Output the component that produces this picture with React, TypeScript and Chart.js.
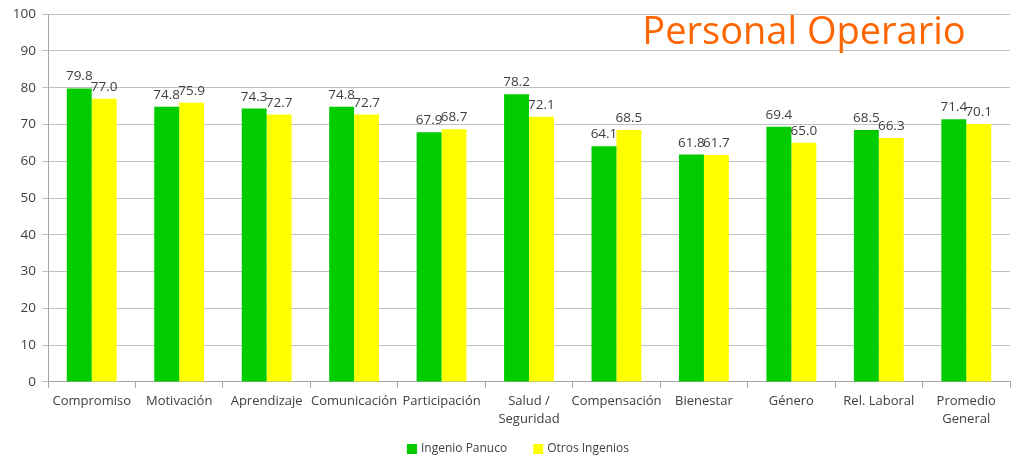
import React, { useEffect, useRef } from "react";
import { Chart, registerables } from "chart.js";

Chart.register(...registerables);

const categories: (string | string[])[] = [
  "Compromiso",
  "Motivación",
  "Aprendizaje",
  "Comunicación",
  "Participación",
  ["Salud /", "Seguridad"],
  "Compensación",
  "Bienestar",
  "Género",
  "Rel. Laboral",
  ["Promedio", "General"],
];
const ingenioPanuco = [79.8, 74.8, 74.3, 74.8, 67.9, 78.2, 64.1, 61.8, 69.4, 68.5, 71.4];
const otrosIngenios = [77.0, 75.9, 72.7, 72.7, 68.7, 72.1, 68.5, 61.7, 65.0, 66.3, 70.1];
const yTicks = [0, 10, 20, 30, 40, 50, 60, 70, 80, 90, 100];
const titleText = "Personal Operario";

const FONT = "'Open Sans', 'Noto Sans', sans-serif";
const TEXT = "#404040";

const labelPlugin = {
  id: "valueLabels",
  afterDatasetsDraw(chart: any) {
    const ctx = chart.ctx;
    ctx.save();
    ctx.font = `13.5px ${FONT}`;
    ctx.fillStyle = TEXT;
    ctx.textAlign = "center";
    ctx.textBaseline = "bottom";
    chart.data.datasets.forEach((ds: any, di: number) => {
      const meta = chart.getDatasetMeta(di);
      meta.data.forEach((bar: any, i: number) => {
        ctx.fillText(Number(ds.data[i]).toFixed(1), bar.x, bar.y - 5);
      });
    });
    ctx.restore();
  },
};

const titlePlugin = {
  id: "cornerTitle",
  afterDraw(chart: any) {
    const ctx = chart.ctx;
    ctx.save();
    ctx.font = `500 38px 'Open Sans', sans-serif`;
    ctx.fillStyle = "#FF6600";
    ctx.textAlign = "center";
    ctx.textBaseline = "alphabetic";
    ctx.fillText(titleText, 804, 44);
    ctx.restore();
  },
};

const legendPlugin = {
  id: "bottomLegend",
  afterDraw(chart: any) {
    const ctx = chart.ctx;
    ctx.save();
    ctx.font = `12px ${FONT}`;
    ctx.textBaseline = "middle";
    ctx.textAlign = "left";
    const y = 449;
    const box = 10;
    const gapBoxText = 4;
    const gapItems = 26;
    const items = chart.data.datasets.map((ds: any) => ({
      label: ds.label,
      color: ds.backgroundColor,
      w: box + gapBoxText + ctx.measureText(ds.label).width,
    }));
    const total = items.reduce((s: number, it: any) => s + it.w, 0) + gapItems * (items.length - 1);
    let x = 518 - total / 2;
    items.forEach((it: any) => {
      ctx.fillStyle = it.color;
      ctx.fillRect(x, y - box / 2, box, box);
      ctx.fillStyle = TEXT;
      ctx.fillText(it.label, x + box + gapBoxText, y);
      x += it.w + gapItems;
    });
    ctx.restore();
  },
};

export default function App() {
  const ref = useRef<HTMLCanvasElement>(null);
  useEffect(() => {
    if (!ref.current) return;
    const chart = new Chart(ref.current, {
      type: "bar",
      data: {
        labels: categories,
        datasets: [
          {
            label: "Ingenio Panuco",
            data: ingenioPanuco,
            backgroundColor: "#00CC00",
            categoryPercentage: 0.57,
            barPercentage: 1.0,
          },
          {
            label: "Otros Ingenios",
            data: otrosIngenios,
            backgroundColor: "#FFFF00",
            categoryPercentage: 0.57,
            barPercentage: 1.0,
          },
        ],
      },
      options: {
        animation: false,
        responsive: true,
        maintainAspectRatio: false,
        layout: { padding: { top: 6, right: 6, left: 0, bottom: 24 } },
        plugins: {
          legend: { display: false },
          tooltip: { enabled: false },
          title: { display: false },
        },
        scales: {
          x: {
            grid: {
              offset: true,
              drawOnChartArea: false,
              drawTicks: true,
              tickLength: 6,
              color: "#a6a6a6",
            },
            border: { color: "#a6a6a6" },
            ticks: {
              color: TEXT,
              font: { family: FONT, size: 13, lineHeight: 1.35 },
              maxRotation: 0,
              autoSkip: false,
              padding: 5,
            },
          },
          y: {
            min: 0,
            max: 100,
            afterFit: (s: any) => {
              s.width = 48;
            },
            afterBuildTicks: (s: any) => {
              s.ticks = yTicks.map((v) => ({ value: v }));
            },
            grid: { color: "#c0c0c0", tickLength: 6 },
            border: { color: "#a6a6a6" },
            ticks: {
              color: TEXT,
              font: { family: FONT, size: 13.5 },
              padding: 6,
            },
          },
        },
      },
      plugins: [labelPlugin, titlePlugin, legendPlugin],
    });
    return () => chart.destroy();
  }, []);
  return (
    <div style={{ position: "absolute", left: 0, top: 0, width: 1016, height: 457 }}>
      <canvas ref={ref} />
    </div>
  );
}
